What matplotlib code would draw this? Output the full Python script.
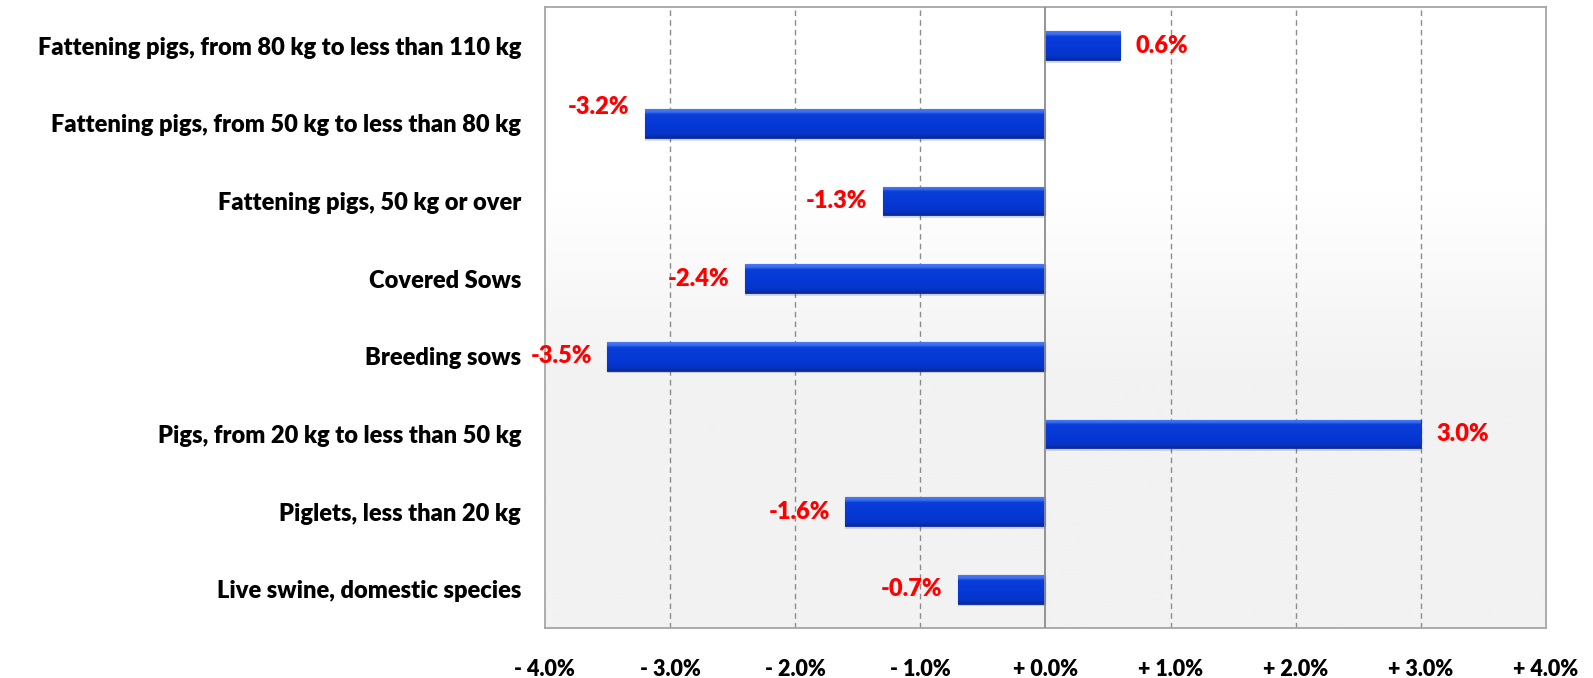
import numpy as np
import matplotlib
matplotlib.use("Agg")
import matplotlib.pyplot as plt
from matplotlib.ticker import FuncFormatter, MultipleLocator
from matplotlib.colors import LinearSegmentedColormap

# categories listed top to bottom
categories = [
    "Fattening pigs, from 80 kg to less than 110 kg",
    "Fattening pigs, from 50 kg to less than 80 kg",
    "Fattening pigs, 50 kg or over",
    "Covered Sows",
    "Breeding sows",
    "Pigs, from 20 kg to less than 50 kg",
    "Piglets, less than 20 kg",
    "Live swine, domestic species",
]
changes = [0.6, -3.2, -1.3, -2.4, -3.5, 3.0, -1.6, -0.7]

plt.rcParams['font.family'] = ['Lato', 'DejaVu Sans']

fig = plt.figure(figsize=(15.93, 6.78), dpi=100)
ax = fig.add_axes([0.342, 0.0737, 0.6285, 0.916])

y = np.arange(len(categories))[::-1]
n = len(categories)

# plot area background: white on top fading to light grey at the bottom
t = np.linspace(0, 1, 256).reshape(-1, 1)  # 0 = bottom, 1 = top
bg = np.clip((0.7 - t) / 0.3, 0, 1)
bg_cmap = LinearSegmentedColormap.from_list("bg", ["#ffffff", "#f2f2f2"])
ax.imshow(bg, cmap=bg_cmap, aspect="auto", extent=(-4, 4, -0.5, n - 0.5),
          origin="lower", zorder=0)

for xv in [-3, -2, -1, 1, 2, 3]:
    ax.axvline(xv, color="#8c8c8c", lw=1, ls=(0, (4, 3)), zorder=1)
ax.axvline(0, color="#8c8c8c", lw=1.3, zorder=4)

h = 0.37
# soft shadow
ax.barh(y - 0.035, changes, height=h, left=0, color="#000000", alpha=0.13, zorder=2,
        edgecolor="none")
bars = ax.barh(y, changes, height=h, color="#0638d4", edgecolor="#1a3a9e", lw=0.8, zorder=3)

bar_cmap = LinearSegmentedColormap.from_list(
    "bar", [(0, "#0a2a9c"), (0.12, "#0534c8"), (0.5, "#0639d6"),
            (0.82, "#0a3ed8"), (0.9, "#3a6cf0"), (1, "#4a7af2")])
grad = np.linspace(0, 1, 64).reshape(-1, 1)
for b in bars:
    x0, x1 = sorted([b.get_x(), b.get_x() + b.get_width()])
    y0, y1 = b.get_y(), b.get_y() + b.get_height()
    im = ax.imshow(grad, cmap=bar_cmap, aspect="auto", extent=(x0, x1, y0, y1),
                   origin="lower", zorder=3)
    im.set_clip_path(b)
ax.set_ylim(-0.5, n - 0.5)
ax.set_xlim(-4, 4)

for yi, v in zip(y, changes):
    dy = 12 if abs(v + 3.2) < 1e-9 else 0
    ax.annotate(f"{v:.1f}%", (v, yi), xytext=(11 if v > 0 else -11, dy),
                textcoords="offset points", ha="left" if v > 0 else "right",
                va="center", color="#ff0000", fontsize=17, fontweight="heavy", zorder=5)

ax.set_yticks(y)
ax.set_yticklabels(categories, fontsize=17, fontweight="heavy")
ax.xaxis.set_major_locator(MultipleLocator(1))
ax.xaxis.set_major_formatter(FuncFormatter(
    lambda v, p: f"- {abs(v):.1f}%" if v < 0 else f"+ {v:.1f}%"))
for lab in ax.get_xticklabels():
    lab.set_fontweight("heavy")
ax.tick_params(axis="x", labelsize=15.5, length=0, pad=22)
ax.tick_params(axis="y", length=0, pad=17)
for s in ax.spines.values():
    s.set_color("#a6a6a6")
    s.set_linewidth(1.3)

fig.savefig("out.png", dpi=100)
